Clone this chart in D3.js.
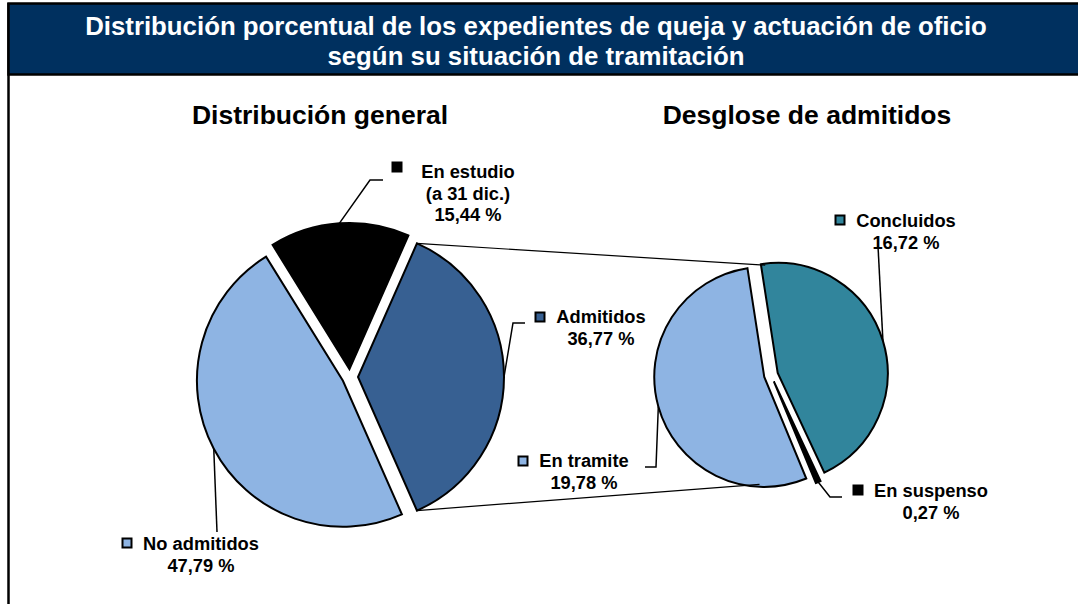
<!DOCTYPE html>
<html>
<head>
<meta charset="utf-8">
<script src="https://cdn.jsdelivr.net/npm/d3@7"></script>
<style>
  body{margin:0;background:#fff;}
  text{font-family:"Liberation Sans",Arial,sans-serif;font-weight:bold;}
</style>
</head>
<body>
<div class="canvas"></div>
<script>
// data
const titleLines=['Distribución porcentual de los expedientes de queja y actuación de oficio','según su situación de tramitación'];
const generalCats=['Admitidos','No admitidos','En estudio'];
const generalNames=[['Admitidos'],['No admitidos'],['En estudio','(a 31 dic.)']];
const generalValues=[36.77,47.79,15.44];
const desgloseCats=['Concluidos','En suspenso','En tramite'];
const desgloseValues=[16.72,0.27,19.78];

const width=1078,height=604;
const svg=d3.select('.canvas')
      .append('svg')
        .attr('width',width)
        .attr('height',height);

//frame and title bar
svg.append('line')
   .attr('x1',8.5).attr('x2',8.5).attr('y1',3).attr('y2',height)
   .attr('stroke','#000').attr('stroke-width',2.5);
svg.append('rect')
   .attr('x',8.5).attr('y',3.5).attr('width',width).attr('height',71)
   .attr('fill','#00305f').attr('stroke','#000').attr('stroke-width',2.5);

svg.selectAll('text.title')
   .data(titleLines)
   .enter().append('text')
     .attr('class','title')
     .attr('x',536)
     .attr('y',(d,i)=>35+i*30)
     .attr('text-anchor','middle')
     .attr('fill','#fff')
     .style('font-size','25.8px')
     .text(d=>d);

const subtitles=[{t:'Distribución general',x:320},{t:'Desglose de admitidos',x:807}];
svg.selectAll('text.sub')
   .data(subtitles)
   .enter().append('text')
     .attr('class','sub')
     .attr('x',d=>d.x).attr('y',124)
     .attr('text-anchor','middle')
     .style('font-size','26.5px')
     .text(d=>d.t);

const color=d3.scaleOrdinal()
      .domain(['Admitidos','No admitidos','En estudio','Concluidos','En suspenso','En tramite'])
      .range(['#376092','#8eb4e3','#000000','#31859c','#000000','#8eb4e3']);

const deg=Math.PI/180;
const total1=d3.sum(generalValues);
// admitidos slice is centred on the right side (like excel pie of pie)
const start1=Math.PI/2-Math.PI*generalValues[0]/total1;
const pie1=d3.pie().sort(null).value(d=>d.v)
      .startAngle(start1).endAngle(start1+2*Math.PI);
const pie2=d3.pie().sort(null).value(d=>d.v)
      .startAngle(-8.8*deg).endAngle(-8.8*deg+2*Math.PI);

const g1={cx:350,cy:377,r:146,ex:8};
const g2={cx:771,cy:375,r:110,ex:7};

const slices1=pie1(generalCats.map((c,i)=>({cat:c,names:generalNames[i],v:generalValues[i]})));
const slices2=pie2(desgloseCats.map((c,i)=>({cat:c,names:[c],v:desgloseValues[i]})));

const mid=d=>(d.startAngle+d.endAngle)/2;
const offset=(d,e)=>[e*Math.sin(mid(d)),-e*Math.cos(mid(d))];
const polar=(a,r)=>[r*Math.sin(a),-r*Math.cos(a)];

function drawPie(slices,g){
  const arc=d3.arc().innerRadius(0).outerRadius(g.r);
  const grp=svg.append('g').attr('transform',`translate(${g.cx},${g.cy})`);
  grp.selectAll('path')
     .data(slices)
     .enter().append('path')
       .attr('d',arc)
       .attr('transform',d=>`translate(${offset(d,g.ex)})`)
       .attr('fill',d=>color(d.data.cat))
       .attr('stroke','#000')
       .attr('stroke-width',2)
       .attr('stroke-linejoin','miter');
}
drawPie(slices1,g1);
drawPie(slices2,g2);

//connector lines between the two pies
const adm=slices1[0];
const ao=offset(adm,g1.ex);
const pA=polar(adm.startAngle,g1.r), pB=polar(adm.endAngle,g1.r);
const qA=polar(-3*deg,g2.r), qB=polar(186*deg,g2.r);
const connectors=[
  [[g1.cx+ao[0]+pA[0],g1.cy+ao[1]+pA[1]],[g2.cx+qA[0],g2.cy+qA[1]]],
  [[g1.cx+ao[0]+pB[0],g1.cy+ao[1]+pB[1]],[g2.cx+qB[0],g2.cy+qB[1]]]
];
svg.selectAll('line.conn')
   .data(connectors)
   .enter().append('line')
     .attr('x1',d=>d[0][0]).attr('y1',d=>d[0][1])
     .attr('x2',d=>d[1][0]).attr('y2',d=>d[1][1])
     .attr('stroke','#000').attr('stroke-width',1.2);

//label layout (text centre, first baseline, marker, leader path after the slice)
const layout={
  'En estudio':{cx:468,y:178,mk:[397,167],path:[[370,180],[383,180]]},
  'Admitidos':{cx:601,y:323,mk:[540,317],path:[[513,323],[525,323]]},
  'No admitidos':{cx:201,y:550,mk:[127,543],path:[[217,532]]},
  'Concluidos':{cx:906,y:227,mk:[840,220],path:[[878,246]]},
  'En tramite':{cx:584,y:467,mk:[523,461],path:[[656,467],[645,467]]},
  'En suspenso':{cx:931,y:497,mk:[858,490],path:[[830,497],[842,497]]}
};
const fmt=v=>d3.format('.2f')(v).replace('.',',')+' %';

function drawLabels(slices,g){
  slices.forEach(d=>{
    const L=layout[d.data.cat];
    const o=offset(d,g.ex), p=polar(mid(d),g.r);
    const pts=[[g.cx+o[0]+p[0],g.cy+o[1]+p[1]]].concat(L.path);
    svg.append('path')
       .attr('d',d3.line()(pts))
       .attr('fill','none').attr('stroke','#000').attr('stroke-width',1.5);
    const lines=d.data.names.concat([fmt(d.data.v)]);
    svg.append('g').selectAll('text')
       .data(lines)
       .enter().append('text')
         .attr('x',L.cx)
         .attr('y',(t,i)=>L.y+i*21.5)
         .attr('text-anchor','middle')
         .style('font-size','18.3px')
         .text(t=>t);
    svg.append('rect')
       .attr('x',L.mk[0]-4.5).attr('y',L.mk[1]-4.5)
       .attr('width',9).attr('height',9)
       .attr('fill',color(d.data.cat))
       .attr('stroke','#000').attr('stroke-width',2);
  });
}
drawLabels(slices1,g1);
drawLabels(slices2,g2);
</script>
</body>
</html>
